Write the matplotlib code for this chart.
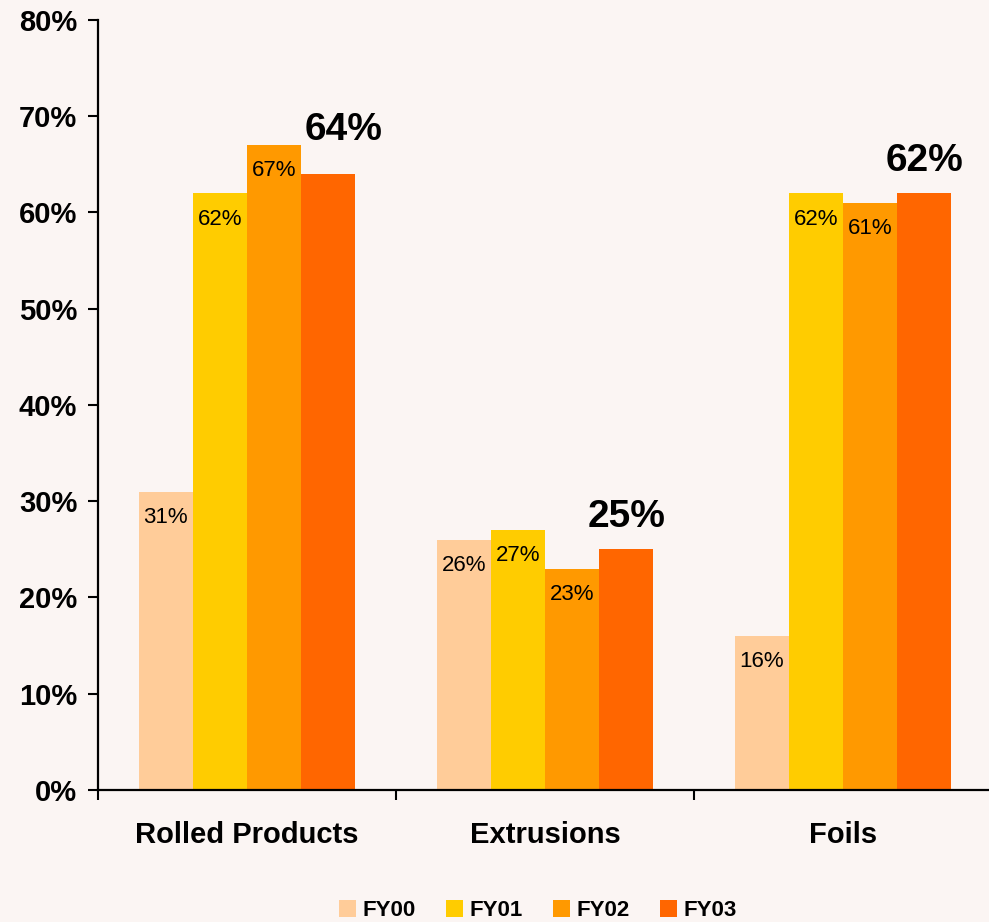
import matplotlib.pyplot as plt
import numpy as np

plt.rcParams['font.family'] = ['Liberation Sans', 'DejaVu Sans']

categories = ['Rolled Products', 'Extrusions', 'Foils']
years = ['FY00', 'FY01', 'FY02', 'FY03']
share = {
    'FY00': [31, 26, 16],
    'FY01': [62, 27, 62],
    'FY02': [67, 23, 61],
    'FY03': [64, 25, 62],
}
colors = ['#FFCC99', '#FFCC00', '#FF9900', '#FF6600']
yticks = [0, 10, 20, 30, 40, 50, 60, 70, 80]

fig = plt.figure(figsize=(9.89, 9.22), dpi=100, facecolor='#FBF5F3')
ax = fig.add_axes([0.0991, 0.1432, 0.9039, 0.8351])
ax.set_facecolor('none')

x = np.arange(len(categories))
w = 0.182
for i, (yr, c) in enumerate(zip(years, colors)):
    vals = share[yr]
    pos = x + (i - 1.5) * w
    ax.bar(pos, vals, width=w, color=c, label=yr, zorder=2)
    for k, (p, v) in enumerate(zip(pos, vals)):
        if yr == 'FY03':
            # latest year gets a big label, nudged clear of a taller neighbour
            taller = share['FY02'][k] > v
            dx, dy = (11, 19) if taller else (0, 10)
            ax.annotate(f'{v}%', (p, v), xytext=(dx, dy), textcoords='offset points',
                        ha='center', va='bottom', fontsize=28, fontweight='bold')
        else:
            ax.annotate(f'{v}%', (p, v), xytext=(0, -11), textcoords='offset points',
                        ha='center', va='top', fontsize=16)

ax.set_xlim(-0.5, 2.5)
ax.set_ylim(0, 80)
ax.set_yticks(yticks)
ax.set_yticklabels([f'{t}%' for t in yticks], fontsize=21, fontweight='bold')
ax.set_xticks([-0.5, 0.5, 1.5, 2.5])
ax.set_xticklabels([])
ax.set_xticks(x, minor=True)
ax.set_xticklabels(categories, minor=True, fontsize=21, fontweight='bold')
ax.tick_params(axis='x', which='minor', length=0, pad=22)
ax.tick_params(axis='both', which='major', length=7, width=1.5, direction='out')
ax.tick_params(axis='y', pad=8)

for s in ['top', 'right']:
    ax.spines[s].set_visible(False)
for s in ['left', 'bottom']:
    ax.spines[s].set_linewidth(1.6)

fig.legend(loc='lower center', bbox_to_anchor=(538 / 989, -0.021), ncol=4,
           frameon=False, prop={'size': 16, 'weight': 'bold'},
           handlelength=0.76, handleheight=0.76, handletextpad=0.3,
           columnspacing=1.35)

fig.savefig('out.png', dpi=100, facecolor=fig.get_facecolor())
